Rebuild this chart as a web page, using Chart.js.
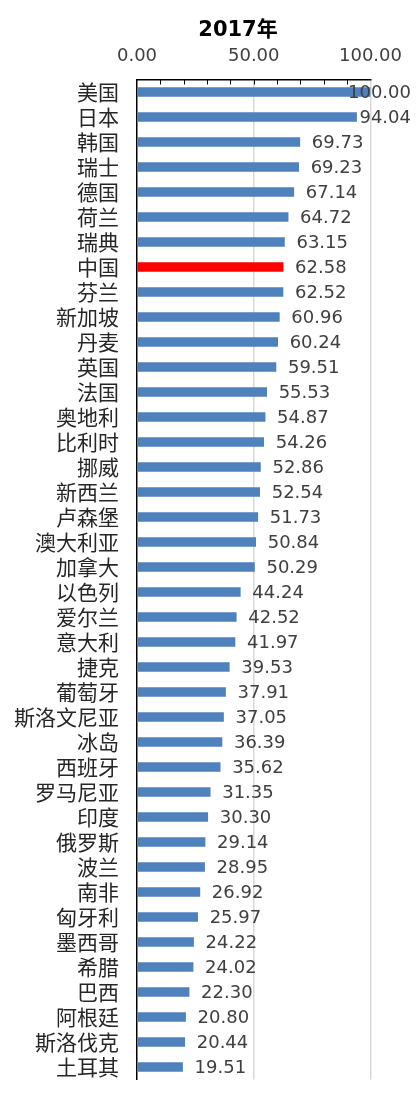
<!DOCTYPE html>
<html>
<head>
<meta charset="utf-8">
<script src="https://cdn.jsdelivr.net/npm/chart.js@4"></script>
<style>
  body { margin: 0; background: #fff; }
  canvas { display: block; }
</style>
</head>
<body>
<canvas id="chart2017" width="416" height="1102"></canvas>
<script>
const countries = [
  '美国', '日本', '韩国', '瑞士', '德国', '荷兰', '瑞典', '中国', '芬兰', '新加坡',
  '丹麦', '英国', '法国', '奥地利', '比利时', '挪威', '新西兰', '卢森堡', '澳大利亚', '加拿大',
  '以色列', '爱尔兰', '意大利', '捷克', '葡萄牙', '斯洛文尼亚', '冰岛', '西班牙', '罗马尼亚', '印度',
  '俄罗斯', '波兰', '南非', '匈牙利', '墨西哥', '希腊', '巴西', '阿根廷', '斯洛伐克', '土耳其'
];
const scores = [
  100.00, 94.04, 69.73, 69.23, 67.14, 64.72, 63.15, 62.58, 62.52, 60.96,
  60.24, 59.51, 55.53, 54.87, 54.26, 52.86, 52.54, 51.73, 50.84, 50.29,
  44.24, 42.52, 41.97, 39.53, 37.91, 37.05, 36.39, 35.62, 31.35, 30.30,
  29.14, 28.95, 26.92, 25.97, 24.22, 24.02, 22.30, 20.80, 20.44, 19.51
];
const xTicks = [0, 50, 100];
const highlight = '中国';
const chartTitle = '2017年';

const NUM_FONT = "'DejaVu Sans', 'Noto Sans CJK SC', sans-serif";
const CJK_FONT = "'Noto Sans CJK SC', sans-serif";

// title drawn by hand so it can sit off-centre like the original
const titlePlugin = {
  id: 'titleText',
  afterDraw(chart) {
    const ctx = chart.ctx;
    ctx.save();
    ctx.font = 'bold 21px ' + NUM_FONT;
    ctx.fillStyle = '#000';
    ctx.textAlign = 'center';
    ctx.textBaseline = 'middle';
    ctx.fillText(chartTitle, 238, 31);
    ctx.restore();
  }
};

// small inward tick marks on the top axis
const minorTicks = {
  id: 'minorTicks',
  afterDraw(chart) {
    const x = chart.scales.x, top = chart.chartArea.top;
    const ctx = chart.ctx;
    ctx.save();
    ctx.strokeStyle = '#000';
    ctx.lineWidth = 1;
    for (let v = 10; v < 100; v += 10) {
      const px = Math.round(x.getPixelForValue(v)) + 0.5;
      ctx.beginPath();
      ctx.moveTo(px, top);
      ctx.lineTo(px, top + 5);
      ctx.stroke();
    }
    ctx.restore();
  }
};

const valueLabels = {
  id: 'valueLabels',
  afterDatasetsDraw(chart) {
    const ctx = chart.ctx;
    const meta = chart.getDatasetMeta(0);
    ctx.save();
    ctx.font = '18px ' + NUM_FONT;
    ctx.fillStyle = '#404040';
    ctx.textAlign = 'left';
    ctx.textBaseline = 'middle';
    meta.data.forEach((bar, i) => {
      const txt = scores[i].toFixed(2);
      const w = ctx.measureText(txt).width;
      let x = bar.x + 12;
      if (x + w > chart.width - 5) x = chart.width - 5 - w;
      ctx.fillText(txt, x, bar.y + 1);
    });
    ctx.restore();
  }
};

const config = {
  type: 'bar',
  data: {
    labels: countries,
    datasets: [{
      data: scores,
      backgroundColor: countries.map(c => c === highlight ? '#FF0000' : '#4F81BD'),
      barThickness: 9
    }]
  },
  options: {
    indexAxis: 'y',
    responsive: false,
    animation: false,
    layout: { padding: { top: 40, bottom: 22.5, left: 0, right: 45.5 } },
    plugins: {
      legend: { display: false },
      title: { display: false },
      tooltip: { enabled: false }
    },
    scales: {
      x: {
        position: 'top',
        min: 0,
        max: 100,
        afterBuildTicks(s) { s.ticks = xTicks.map(v => ({ value: v })); },
        ticks: {
          callback: v => Number(v).toFixed(2),
          font: { family: NUM_FONT, size: 18 },
          color: '#404040',
          padding: 12,
          maxRotation: 0
        },
        grid: {
          color: ctx => ctx.tick && ctx.tick.value === 0 ? 'rgba(0,0,0,0)' : '#D9D9D9',
          lineWidth: 1.5,
          drawTicks: false
        },
        border: { color: '#000', width: 1.5 },
        afterFit(s) {
          s.height = 39.5;
          s.paddingLeft = 0;
          s.paddingRight = 0;
        }
      },
      y: {
        ticks: {
          font: { family: CJK_FONT, size: 21 },
          color: '#262626',
          padding: 18,
          autoSkip: false
        },
        grid: { display: false, drawTicks: false },
        border: { color: '#000', width: 1.5 },
        afterFit(s) {
          s.width = 137;
          s.paddingTop = 0;
          s.paddingBottom = 0;
        }
      }
    }
  },
  plugins: [minorTicks, valueLabels, titlePlugin]
};

const chart2017 = new Chart(document.getElementById('chart2017'), config);
</script>
</body>
</html>
